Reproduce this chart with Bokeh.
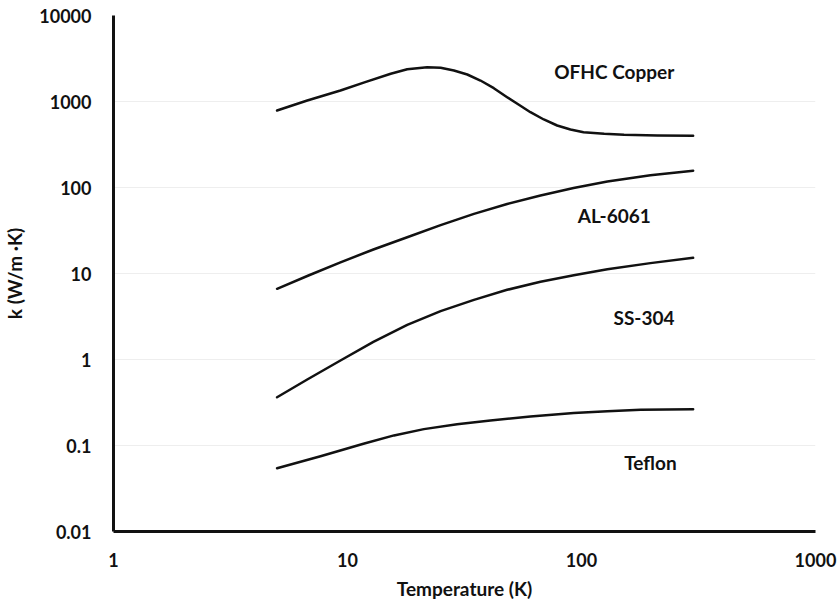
from bokeh.plotting import figure
from bokeh.models import FixedTicker, CustomJSTickFormatter, Range1d
from bokeh.core.properties import value
from bokeh.embed import file_html
from bokeh.resources import INLINE

# Thermal conductivity k (W/m·K) versus temperature (K)
copper_T = [5.0, 6.73, 9.33, 11.9, 15.3, 18.0, 21.9, 25.0, 28.5, 32.5, 37.0, 42.2,
            48.1, 54.0, 60.5, 69.0, 78.7, 89.7, 102, 125, 152, 211, 300]
copper_k = [786, 1027, 1343, 1678, 2099, 2376, 2506, 2466, 2293, 2061, 1754, 1429,
            1122, 915, 751, 618, 526, 472, 440, 421, 410, 402, 399]

al_T = [5.0, 6.81, 9.33, 12.9, 18.0, 25.0, 34.7, 48.1, 66.8, 92.5, 129, 197, 300]
al_k = [6.64, 9.48, 13.5, 19.0, 26.4, 36.5, 49.4, 64.3, 80.9, 98.9, 117.5, 139, 157]

ss_T = [5.0, 6.73, 9.33, 12.9, 18.0, 25.0, 34.7, 48.1, 66.8, 92.7, 129, 197, 300]
ss_k = [0.364, 0.585, 0.974, 1.60, 2.53, 3.65, 4.94, 6.46, 8.00, 9.55, 11.2, 13.2, 15.2]

teflon_T = [5.0, 7.67, 11.7, 15.8, 21.2, 29.4, 40.8, 60.5, 92.7, 129, 179, 300]
teflon_k = [0.0545, 0.0751, 0.105, 0.131, 0.155, 0.177, 0.195, 0.217, 0.238, 0.251,
            0.260, 0.264]

material_names = ["OFHC Copper", "AL-6061", "SS-304", "Teflon"]
name_T = [138, 138, 185, 197]
name_k = [2234, 47.2, 3.08, 0.0634]

x_ticks = [1, 10, 100, 1000]
y_ticks = [0.01, 0.1, 1, 10, 100, 1000, 10000]

FONT = "Lato"
INK = "#111111"

p = figure(width=840, height=608, x_axis_type="log", y_axis_type="log",
           x_range=Range1d(1, 1000), y_range=Range1d(0.01, 10000),
           output_backend="svg", toolbar_location=None,
           min_border_left=113, min_border_right=25,
           min_border_top=15, min_border_bottom=77)
p.outline_line_color = None
p.background_fill_color = "white"
p.border_fill_color = "white"

for T, k in [(copper_T, copper_k), (al_T, al_k), (ss_T, ss_k), (teflon_T, teflon_k)]:
    p.line(T, k, line_color=INK, line_width=2.5, line_join="round", line_cap="round")

p.text(x=name_T, y=name_k, text=material_names, text_align="center",
       text_baseline="middle", text_font=value(FONT), text_font_style="bold",
       text_font_size="19px", text_color=INK)

fmt = CustomJSTickFormatter(code="return tick.toString();")
p.xaxis.ticker = FixedTicker(ticks=x_ticks)
p.yaxis.ticker = FixedTicker(ticks=y_ticks)
p.xaxis.formatter = fmt
p.yaxis.formatter = fmt

for ax in (p.xaxis, p.yaxis):
    ax.axis_line_width = 3
    ax.axis_line_color = INK
    ax.major_tick_line_color = None
    ax.minor_tick_line_color = None
    ax.major_tick_out = 0
    ax.major_tick_in = 0
    ax.major_label_text_font = FONT
    ax.major_label_text_font_style = "bold"
    ax.major_label_text_font_size = "18px"
    ax.major_label_text_color = INK
    ax.axis_label_text_font = FONT
    ax.axis_label_text_font_style = "bold"
    ax.axis_label_text_font_size = "19px"
    ax.axis_label_text_color = INK

p.xaxis.axis_label = "Temperature (K)"
p.yaxis.axis_label = "k (W/m ·K)"
p.xaxis.major_label_standoff = 21
p.xaxis.axis_label_standoff = 7
p.yaxis.major_label_standoff = 22
p.yaxis.axis_label_standoff = 10

p.xgrid.grid_line_color = None
p.ygrid.grid_line_color = "#eeeeee"
p.ygrid.grid_line_width = 1

open("out.html", "w").write(file_html(p, INLINE))
